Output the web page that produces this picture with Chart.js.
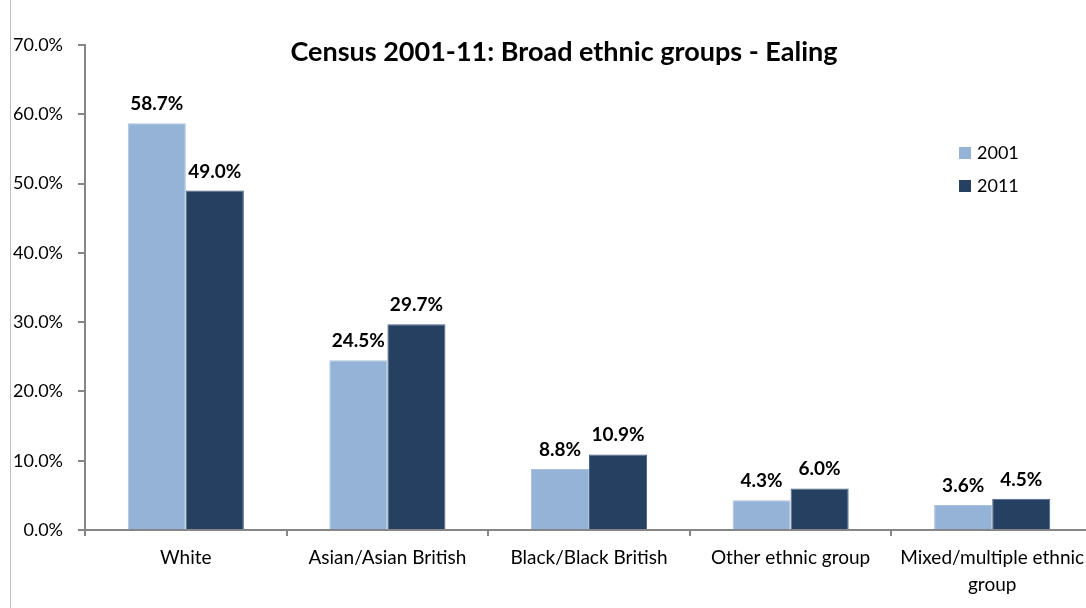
<!DOCTYPE html>
<html>
<head>
<meta charset="utf-8">
<script src="https://cdn.jsdelivr.net/npm/chart.js@4.4.1/dist/chart.umd.min.js"></script>
<style>
  html, body { margin: 0; padding: 0; background: #fff; overflow: hidden; }
  #wrap { position: relative; width: 1100px; height: 608px; }
</style>
</head>
<body>
<div id="wrap"><canvas id="c" width="1100" height="608"></canvas></div>
<script>
const categories = ['White', 'Asian/Asian British', 'Black/Black British', 'Other ethnic group', ['Mixed/multiple ethnic', 'group']];
const seriesNames = ['2001', '2011'];
const values2001 = [58.7, 24.5, 8.8, 4.3, 3.6];
const values2011 = [49.0, 29.7, 10.9, 6.0, 4.5];
const yTickMax = 70;
const yTickStep = 10;
const titleText = 'Census 2001-11: Broad ethnic groups - Ealing';

const FONT = 'Lato, "Open Sans", sans-serif';
const LIGHT = '#95B3D7';
const DARK = '#254061';
const AXIS = '#868686';

// White page, thin frame line on the left edge
const framePlugin = {
  id: 'frame',
  beforeDraw(chart) {
    const ctx = chart.ctx;
    ctx.save();
    ctx.fillStyle = '#fff';
    ctx.fillRect(0, 0, chart.width, chart.height);
    ctx.strokeStyle = '#BFBFBF';
    ctx.lineWidth = 1;
    ctx.beginPath();
    ctx.moveTo(10.5, 0);
    ctx.lineTo(10.5, chart.height);
    ctx.stroke();
    ctx.restore();
  }
};

// Title drawn over the plot area
const titlePlugin = {
  id: 'overTitle',
  afterDraw(chart) {
    const ctx = chart.ctx;
    ctx.save();
    ctx.font = 'bold 27px ' + FONT;
    ctx.fillStyle = '#000';
    ctx.textAlign = 'center';
    ctx.textBaseline = 'middle';
    ctx.fillText(titleText, 564, 52);
    ctx.restore();
  }
};

// Value labels above each bar
const valueLabels = {
  id: 'valueLabels',
  afterDatasetsDraw(chart) {
    const ctx = chart.ctx;
    ctx.save();
    ctx.font = 'bold 19px ' + FONT;
    ctx.fillStyle = '#000';
    ctx.textAlign = 'center';
    ctx.textBaseline = 'alphabetic';
    chart.data.datasets.forEach((ds, i) => {
      chart.getDatasetMeta(i).data.forEach((bar, j) => {
        ctx.fillText(ds.data[j].toFixed(1) + '%', bar.x, bar.y - 13);
      });
    });
    ctx.restore();
  }
};

// Vertical legend inside the plot, right side
const sideLegend = {
  id: 'sideLegend',
  afterDraw(chart) {
    const ctx = chart.ctx;
    ctx.save();
    ctx.font = '18px ' + FONT;
    ctx.textBaseline = 'middle';
    ctx.textAlign = 'left';
    chart.data.datasets.forEach((ds, i) => {
      const y = 153 + i * 33;
      ctx.fillStyle = ds.backgroundColor;
      ctx.fillRect(959, y - 6, 12, 12);
      ctx.fillStyle = '#000';
      ctx.fillText(ds.label, 977, y);
    });
    ctx.restore();
  }
};

new Chart(document.getElementById('c'), {
  type: 'bar',
  data: {
    labels: categories,
    datasets: [
      { label: seriesNames[0], data: values2001, backgroundColor: LIGHT, borderColor: '#A9C1DE', borderWidth: 1 },
      { label: seriesNames[1], data: values2011, backgroundColor: DARK, borderColor: '#4A6283', borderWidth: 1 }
    ]
  },
  options: {
    responsive: false,
    animation: false,
    layout: { padding: { left: 10, right: 7, top: 45, bottom: 0 } },
    plugins: {
      legend: { display: false },
      title: { display: false },
      tooltip: { enabled: false }
    },
    datasets: {
      bar: { categoryPercentage: 0.576, barPercentage: 1.0 }
    },
    scales: {
      x: {
        grid: { drawOnChartArea: false, drawTicks: true, tickLength: 6, color: AXIS, lineWidth: 2, offset: true },
        border: { color: AXIS, width: 2 },
        ticks: { color: '#000', font: { family: FONT, size: 19, lineHeight: 1.42 }, padding: 8, maxRotation: 0, autoSkip: false },
        afterFit(s) { s.height = 78; }
      },
      y: {
        min: 0,
        max: yTickMax,
        grid: { drawOnChartArea: false, drawTicks: true, tickLength: 7, color: AXIS, lineWidth: 2 },
        border: { color: AXIS, width: 2 },
        ticks: {
          stepSize: yTickStep,
          color: '#000',
          font: { family: FONT, size: 18 },
          padding: 15,
          callback: v => v.toFixed(1) + '%'
        },
        afterFit(s) { s.width = 75; }
      }
    }
  },
  plugins: [framePlugin, valueLabels, sideLegend, titlePlugin]
});
</script>
</body>
</html>
